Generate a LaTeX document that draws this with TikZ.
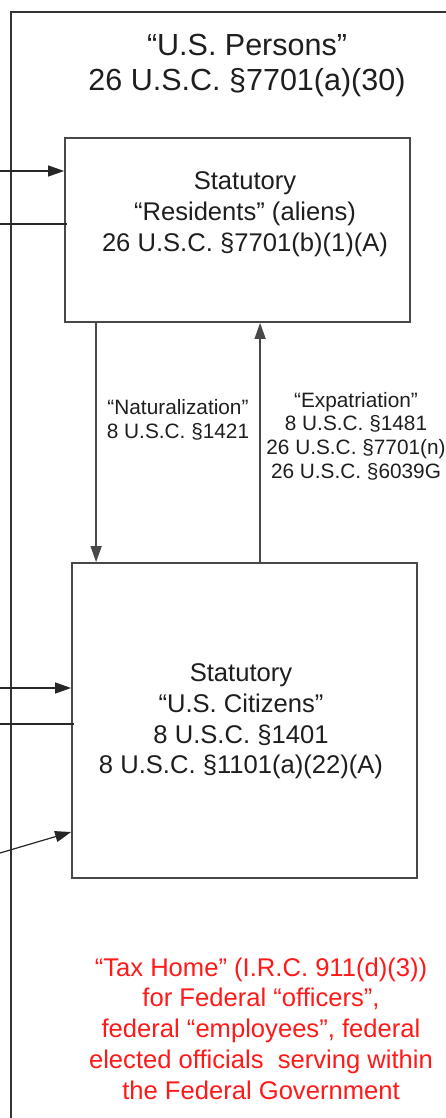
\documentclass[tikz,border=0pt]{standalone}
\usepackage{fontspec}
\setmainfont{Liberation Sans}
\usetikzlibrary{arrows.meta,calc}

\definecolor{boxgray}{RGB}{72,72,72}
\definecolor{txtgray}{RGB}{30,30,30}
\definecolor{taxred}{RGB}{255,25,25}

\tikzset{
  statbox/.style={draw=boxgray,line width=1.8pt,inner sep=0pt},
  boxtext/.style={align=center,text=txtgray,font=\fontsize{25.6}{30.8}\selectfont},
  lawlabel/.style={align=center,text=txtgray,font=\fontsize{20.8}{23.6}\selectfont},
  feed/.style={line width=1.2pt,draw=black!85},
  feedarrow/.style={feed,-{Triangle[length=16pt,width=11pt]}},
  flow/.style={line width=1.5pt,draw=boxgray,-{Triangle[length=16pt,width=11pt]}},
}

\begin{document}
\begin{tikzpicture}[x=1pt,y=1pt,yscale=-1,xscale=1]
\useasboundingbox (0,0) rectangle (446,1118);
\clip (0,0) rectangle (446,1118);

%Shape: Outer frame "U.S. Persons"
\draw [line width=1.3pt,draw=black!80] (11,1130) |- (460,12) ;
\node [boxtext,font=\fontsize{30.5}{35}\selectfont] (persons) at (247,66) {“U.S. Persons”\\26 U.S.C. §7701(a)(30)};

%Shape: Rectangle residents
\node [statbox,minimum width=345pt,minimum height=184pt] (residents) at (237.5,230) {};
\node [boxtext] (residentstext) at ($(residents.center)+(7.5,-16)$) {Statutory\\“Residents” (aliens)\\26 U.S.C. §7701(b)(1)(A)};

%Shape: Rectangle citizens
\node [statbox,minimum width=345pt,minimum height=315pt] (citizens) at (244.5,720.5) {};
\node [boxtext] (citizenstext) at ($(citizens.center)+(-3.5,1)$) {Statutory\\“U.S. Citizens”\\8 U.S.C. §1401\\8 U.S.C. §1101(a)(22)(A)};

%Straight Lines naturalization / expatriation
\coordinate (natstart) at ([xshift=32pt]residents.south west);
\coordinate (expend) at ([xshift=196pt]residents.south west);
\draw [flow] (natstart) -- (natstart |- citizens.north) ;
\draw [flow] (expend |- citizens.north) -- (expend) ;
\node [lawlabel] (natlabel) at (178,420) {“Naturalization”\\8 U.S.C. §1421};
\node [lawlabel] (explabel) at (356,436) {“Expatriation”\\8 U.S.C. §1481\\26 U.S.C. §7701(n)\\26 U.S.C. §6039G};

%Straight Lines coming in from the left
\coordinate (inres) at (0,171);
\coordinate (outres) at (0,224);
\coordinate (incit) at (0,688);
\coordinate (outcit) at (0,724);
\coordinate (slantcit) at (0,853);
\coordinate (slantend) at (0,832);
\draw [feedarrow] (inres) -- (inres -| residents.west) ;
\draw [feed] (outres) -- ([xshift=3pt]outres -| residents.west) ;
\draw [feedarrow] (incit) -- (incit -| citizens.west) ;
\draw [feed] (outcit) -- ([xshift=3pt]outcit -| citizens.west) ;
\draw [feedarrow] (slantcit) -- (slantend -| citizens.west) ;

%Text tax home
\node [boxtext,text=taxred] (taxhome) at (261,1028.5) {“Tax Home” (I.R.C. 911(d)(3))\\for Federal “officers”,\\federal “employees”, federal\\elected officials\ \ serving within\\the Federal Government};

\end{tikzpicture}
\end{document}
